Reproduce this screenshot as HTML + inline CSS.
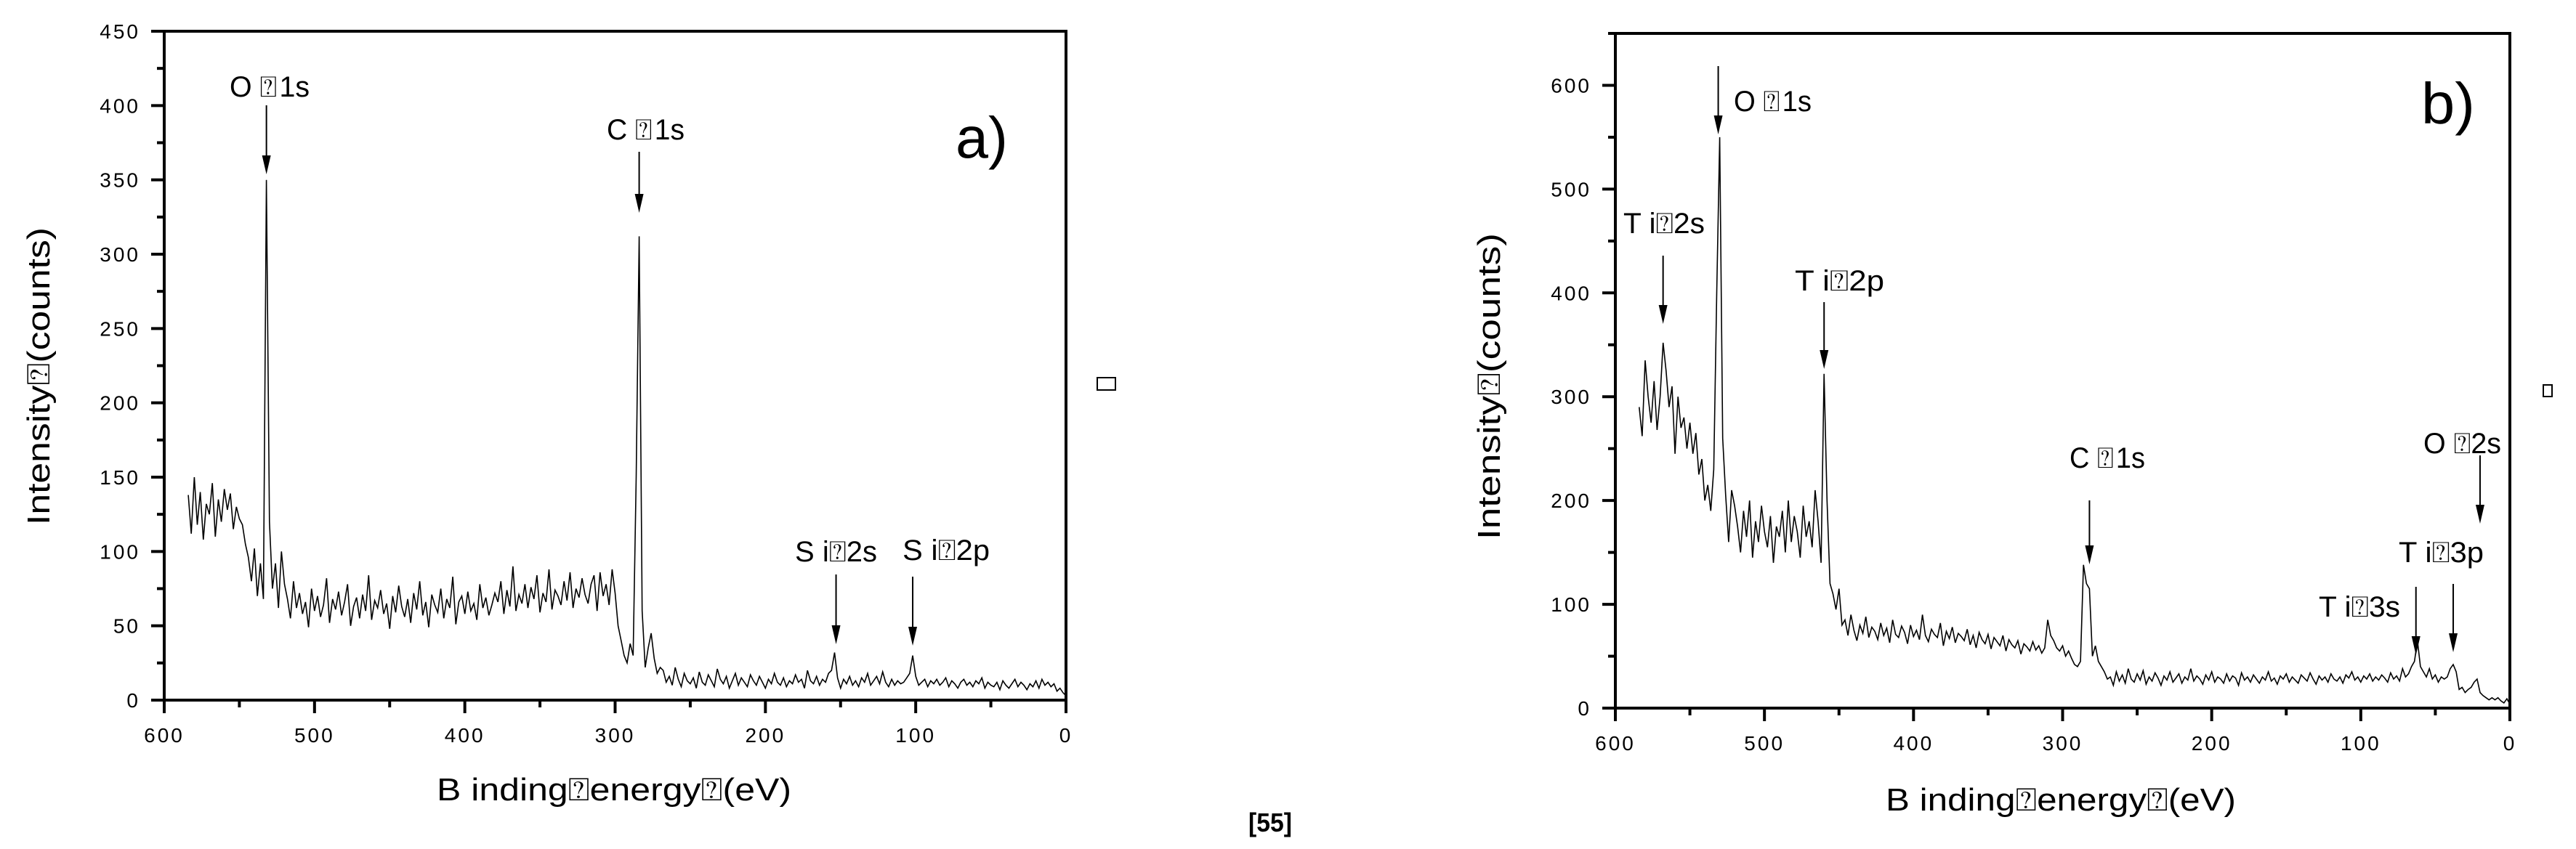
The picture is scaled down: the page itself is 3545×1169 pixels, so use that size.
<!DOCTYPE html>
<html><head><meta charset="utf-8"><style>
html,body{margin:0;padding:0;background:#fff;}
svg{display:block;font-family:"Liberation Sans",sans-serif;}
</style></head><body>
<svg id="fig" width="3545" height="1169" viewBox="0 0 3545 1169" xmlns="http://www.w3.org/2000/svg"></svg>
<script>
// ---- Panel a data (binding energy from 584 eV downward, 2 eV step) ----
const aStart = 584, aStep = 2;
const aCounts = [
138,112,150,118,140,108,132,125,146,110,135,120,142,128,139,115,130,122,118,105,
96,80,102,70,92,68,
350,
120,75,92,62,100,78,
68,55,80,62,72,58,66,49,75,60,
70,56,64,82,52,68,61,73,57,66,
78,50,63,69,55,71,60,84,54,67,
62,74,58,65,48,70,59,77,63,56,
68,52,72,61,80,57,66,49,71,64,
59,75,55,68,62,83,51,66,70,58,
73,60,65,54,78,62,69,57,64,72,
66,80,58,74,63,90,60,71,65,78,
62,76,68,84,59,72,66,88,61,74,
70,64,80,67,86,62,75,69,82,71,
65,78,84,60,86,70,78,64,88,
72,50,40,30,25,38,30,150,312,60,22,35,45,28,18,22,
20,12,16,10,22,14,9,18,13,11,
15,8,19,12,10,17,13,9,21,14,
11,16,8,13,18,10,15,12,9,17,
13,10,16,12,8,14,11,18,12,10,
15,9,13,11,17,12,14,8,20,13,
11,16,10,14,12,18,20,32,15,8,
14,11,16,10,13,9,15,12,18,10,
13,16,11,19,12,9,14,10,13,11,
12,15,18,30,16,10,12,14,9,13,
11,14,10,12,15,9,13,11,8,12,
14,10,12,9,13,11,15,8,12,10,
9,12,7,13,10,8,11,14,9,12,
10,7,11,9,13,8,14,10,12,9,
11,6,8,5,3
];
const aXTicks = [600,500,400,300,200,100,0];
const aYTicks = [0,50,100,150,200,250,300,350,400,450];
const aAnnotLabels = ["O \u2370\u200a1s","C \u2370\u200a1s","S i\u23702s","S i\u23702p"];
const aAnnotEnergy = [532,284,153,102];

// ---- Panel b data ----
const bStart = 584, bStep = 2;
const bCounts = [
290,262,335,300,275,315,268,300,
352,
325,290,310,245,300,270,280,250,275,245,265,
225,240,200,215,190,
230,400,550,260,205,160,210,195,
175,150,190,165,200,145,180,160,195,170,155,185,140,175,165,190,150,200,160,185,170,145,195,165,180,155,
210,180,140,322,200,120,110,95,115,80,
85,70,90,75,65,80,72,88,68,78,
74,66,82,70,77,63,85,71,68,79,
73,62,80,69,75,66,90,70,64,76,
71,68,82,60,74,67,78,63,72,69,
65,76,61,70,58,73,66,62,71,57,
68,64,60,70,55,66,61,58,65,52,
62,59,55,64,56,60,53,58,
85,70,65,58,55,60,50,55,48,42,40,45,
138,120,115,50,60,45,40,35,28,
30,22,35,26,32,24,38,28,25,33,
27,36,23,30,26,34,29,22,31,27,
35,25,29,33,24,30,27,38,26,31,
28,23,32,27,35,25,30,28,24,33,
26,31,29,22,34,27,30,25,32,28,
24,30,27,35,26,29,23,31,28,33,
25,30,27,24,32,29,26,34,28,23,
31,27,30,25,33,28,26,30,24,32,
29,35,27,30,25,31,28,33,26,30,
27,32,29,25,34,28,31,26,38,30,
33,40,
45,65,40,35,30,38,28,32,25,30,28,30,38,42,35,18,20,15,18,20,25,28,15,12,10,8,10,8,10,7,5,9,4
];
const bXTicks = [600,500,400,300,200,100,0];
const bYTicks = [0,100,200,300,400,500,600];
const bAnnotLabels = ["O \u2370\u200a1s","T i\u23702s","T i\u23702p","C \u2370\u200a1s","O \u23702s","T i\u23703p","T i\u23703s"];
const bAnnotEnergy = [531,568,460,282,20,38,63];

const NS = "http://www.w3.org/2000/svg";
const svg = document.getElementById('fig');
function mk(tag, attrs, parent){
  const e = document.createElementNS(NS, tag);
  for (const k in attrs) e.setAttribute(k, attrs[k]);
  (parent||svg).appendChild(e);
  return e;
}

function panel(cfg){
  const g = mk('g', {});
  
  
  const xs = v => cfg.L + (600 - v) / 600 * (cfg.R - cfg.L);
  const ys = v => cfg.B - v / cfg.ymax * (cfg.B - cfg.T);
  // frame
  const fr = mk('rect', {x:cfg.L, y:cfg.T, width:cfg.R-cfg.L, height:cfg.B-cfg.T, fill:'none', stroke:'#000', 'stroke-width':4}, g);
  
  
  // x ticks
  for (let v = 600; v >= 0; v -= 50){
    const major = v % 100 === 0;
    const t = mk('line', {x1:xs(v), x2:xs(v), y1:cfg.B, y2:cfg.B + (major?18:10), stroke:'#000', 'stroke-width':major?4:4}, g);
    
    
  }
  cfg.xTicks.forEach(v => {
    const t = mk('text', {x:xs(v), y:cfg.xLabY, 'font-size':28, 'text-anchor':'middle', 'letter-spacing':3}, g);
    t.textContent = String(v);
    
    
  });
  // y ticks
  for (let v = 0; v <= cfg.ymax + 0.01; v += cfg.yMinor){
    const major = Math.round(v / cfg.yMinor) % 2 === 0;
    const t = mk('line', {x1:cfg.L - (major?18:10), x2:cfg.L, y1:ys(v), y2:ys(v), stroke:'#000', 'stroke-width':4}, g);
    
    
  }
  cfg.yTicks.forEach(v => {
    const t = mk('text', {x:cfg.L - 33, y:ys(v) + 10, 'font-size':28, 'text-anchor':'end', 'letter-spacing':3}, g);
    t.textContent = String(v);
    
    
  });
  // series
  let d = '';
  cfg.counts.forEach((c, i) => {
    const e = cfg.start - i * cfg.step;
    d += (i ? 'L' : 'M') + xs(e).toFixed(1) + ' ' + ys(c).toFixed(1);
  });
  const p = mk('path', {d:d, fill:'none', stroke:'#000', 'stroke-width':1.6, 'stroke-linejoin':'miter'}, g);
  
  
  // annotations
  cfg.labels.forEach((lab, i) => {
    const a = cfg.annots[i];
    const x = xs(cfg.annotE[i]);
    const ln = mk('line', {x1:x, x2:x, y1:a.y1, y2:a.y2 - 20, stroke:'#000', 'stroke-width':2}, g);
    
    
    const hd = mk('polygon', {points:`${x-6},${a.y2-26} ${x+6},${a.y2-26} ${x},${a.y2}`, fill:'#000'}, g);
    
    
    const t = mk('text', {x:a.tx, y:a.ty, 'font-size':40, textLength:a.tw, lengthAdjust:'spacingAndGlyphs'}, g);
    t.textContent = lab;
    
    
  });
  // panel letter
  const pl = mk('text', {x:cfg.letter.x, y:cfg.letter.y, 'font-size':80, textLength:cfg.letter.w, lengthAdjust:'spacingAndGlyphs'}, g);
  pl.textContent = cfg.letter.t;
  
  
  // axis titles
  const xt = mk('text', {x:cfg.xTitle.x, y:cfg.xTitle.y, 'font-size':44, 'text-anchor':'middle', textLength:cfg.xTitle.w, lengthAdjust:'spacingAndGlyphs'}, g);
  xt.textContent = 'B inding\u2370energy\u2370(eV)';
  
  
  const yt = mk('text', {x:0, y:0, 'font-size':44, 'text-anchor':'middle', textLength:cfg.yTitle.w, lengthAdjust:'spacingAndGlyphs', transform:`translate(${cfg.yTitle.x},${cfg.yTitle.y}) rotate(-90)`}, g);
  yt.textContent = 'Intensity\u2370(counts)';
  
  
}

panel({name:'panel-a', L:226, R:1467, T:43, B:964, ymax:450, yMinor:25,
  xTicks:aXTicks, yTicks:aYTicks, xLabY:1022, counts:aCounts, start:aStart, step:aStep,
  labels:aAnnotLabels, annotE:aAnnotEnergy,
  annots:[{y1:145,y2:240,tx:316,ty:133,tw:110},{y1:209,y2:293,tx:835,ty:192,tw:107},
          {y1:791,y2:887,tx:1094,ty:773,tw:113},{y1:794,y2:889,tx:1242,ty:771,tw:120}],
  letter:{x:1315,y:217,w:72,t:'a)'},
  xTitle:{x:845,y:1102,w:488}, yTitle:{x:68,y:518,w:410}});

panel({name:'panel-b', L:2223, R:3454, T:46, B:975, ymax:650, yMinor:50,
  xTicks:bXTicks, yTicks:bYTicks, xLabY:1033, counts:bCounts, start:bStart, step:bStep,
  labels:bAnnotLabels, annotE:bAnnotEnergy,
  annots:[{y1:91,y2:185,tx:2386,ty:153,tw:107},{y1:352,y2:446,tx:2234,ty:321,tw:112},
          {y1:416,y2:508,tx:2470,ty:400,tw:123},{y1:689,y2:777,tx:2848,ty:644,tw:104},
          {y1:627,y2:721,tx:3335,ty:624,tw:107},{y1:804,y2:898,tx:3301,ty:774,tw:117},
          {y1:808,y2:902,tx:3191,ty:849,tw:112}],
  letter:{x:3332,y:170,w:74,t:'b)'},
  xTitle:{x:2836,y:1116,w:482}, yTitle:{x:2064,y:532,w:422}});

// stray placeholder glyphs
[[1510,520,25,17],[3500,530,12,16]].forEach(b => {
  const r = mk('rect', {x:b[0], y:b[1], width:b[2], height:b[3], fill:'none', stroke:'#000', 'stroke-width':2});
  
  
});
const ft = mk('text', {x:1718, y:1145, 'font-size':36, 'font-weight':'bold', textLength:60, lengthAdjust:'spacingAndGlyphs'});
ft.textContent = '[55]';


</script>
</body></html>
